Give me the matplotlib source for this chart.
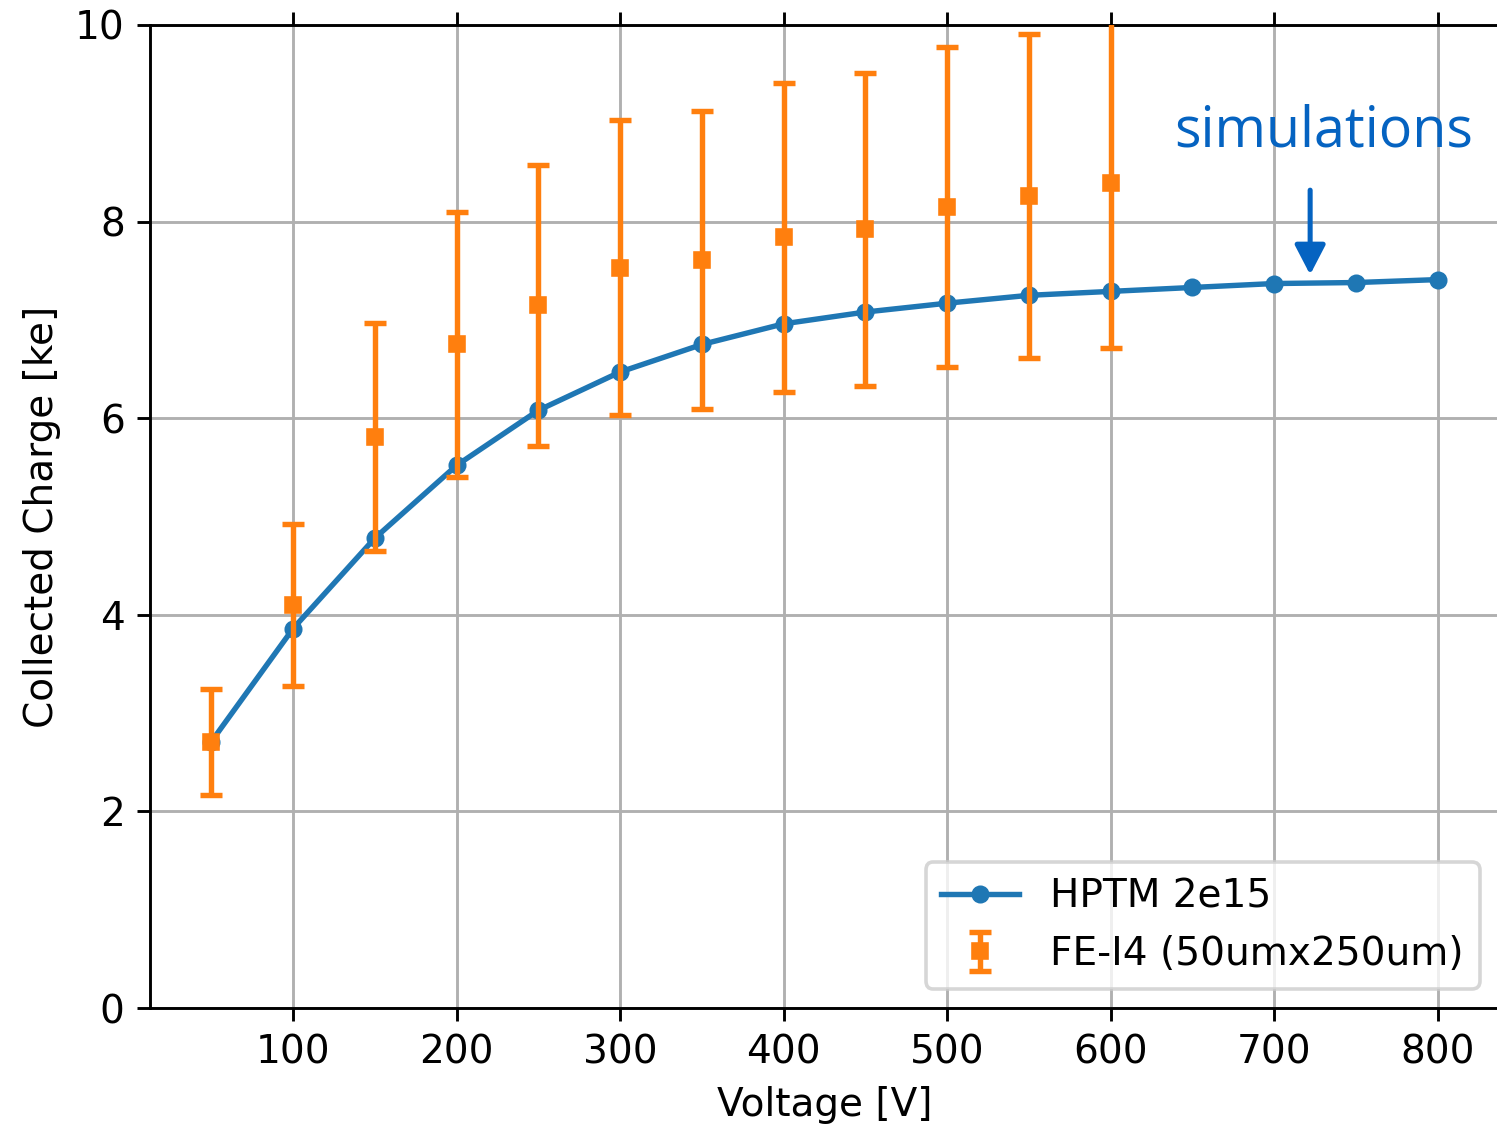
import matplotlib
matplotlib.use("Agg")
import matplotlib.pyplot as plt

voltage_sim = [50, 100, 150, 200, 250, 300, 350, 400, 450, 500, 550, 600, 650, 700, 750, 800]
charge_sim = [2.71, 3.86, 4.78, 5.52, 6.08, 6.47, 6.75, 6.96, 7.08, 7.17, 7.25, 7.29, 7.33, 7.37, 7.38, 7.41]

voltage_meas = [50, 100, 150, 200, 250, 300, 350, 400, 450, 500, 550, 600]
charge_meas = [2.71, 4.10, 5.81, 6.75, 7.15, 7.53, 7.61, 7.84, 7.92, 8.15, 8.26, 8.39]
charge_err = [0.54, 0.82, 1.16, 1.35, 1.43, 1.50, 1.52, 1.57, 1.59, 1.63, 1.65, 1.68]

label_sim = "HPTM 2e15"
label_meas = "FE-I4 (50umx250um)"

plt.rcParams['font.size'] = 10.8
dpi = 260
fig = plt.figure(figsize=(1497 / dpi, 1127 / dpi), dpi=dpi)
ax = fig.add_axes([150 / 1497, 1 - 1008 / 1127, 1349 / 1497, (1008 - 25) / 1127])

ax.plot(voltage_sim, charge_sim, '-o', color='#1f77b4', lw=1.5, markersize=4, label=label_sim, zorder=2)
ax.errorbar(voltage_meas, charge_meas, yerr=charge_err, fmt='s', color='#ff7f0e',
            markersize=4, capsize=3, lw=1.5, capthick=1.5, label=label_meas, zorder=3)

ax.set_xlim(12.5, 837.5)
ax.set_ylim(0, 10)
ax.set_xticks([100, 200, 300, 400, 500, 600, 700, 800])
ax.set_yticks([0, 2, 4, 6, 8, 10])
ax.grid(True, color='#b0b0b0', lw=0.8)
ax.set_axisbelow(True)
ax.tick_params(top=True)
ax.set_xlabel("Voltage [V]", labelpad=4)
ax.set_ylabel("Collected Charge [ke]")
ax.legend(loc='lower right')

ax.annotate("", xy=(722, 7.46), xytext=(722, 8.32),
            arrowprops=dict(arrowstyle='-|>,head_length=0.385,head_width=0.2',
                            mutation_scale=18, color='#0563c1', lw=1.4,
                            shrinkA=0, shrinkB=0))
ax.text(730, 8.76, "simulations", color='#0563c1', fontsize=15.4, family='Open Sans',
        ha='center', va='baseline')

fig.savefig("out.png", dpi=dpi)
